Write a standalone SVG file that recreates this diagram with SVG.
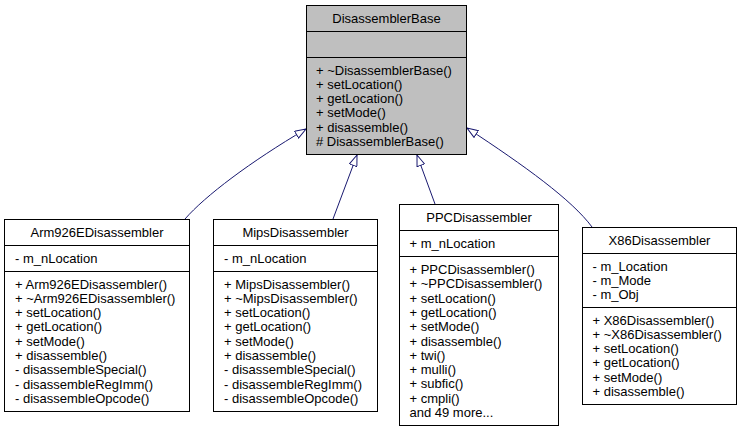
<svg xmlns="http://www.w3.org/2000/svg" width="741" height="433" viewBox="0 0 741 433">
<style>
  text { font-family: "Liberation Sans", Arial, Helvetica, sans-serif; font-size: 13px; fill: #000; }
  .t { text-anchor: middle; }
  .box { fill: #ffffff; stroke: #000; stroke-width: 1; }
  .base { fill: #bfbfbf; stroke: #000; stroke-width: 1; }
  .div { stroke: #000; stroke-width: 1; fill: none; }
  .edge { fill: none; stroke: #191970; stroke-width: 1; }
</style>
<defs>
  <marker id="inh" viewBox="0 0 12 9" refX="11.5" refY="4.5" markerWidth="12" markerHeight="9" markerUnits="userSpaceOnUse" orient="auto">
    <path d="M0.5,0.5 L11.5,4.5 L0.5,8.5 Z" fill="#ffffff" stroke="#191970" stroke-width="1"/>
  </marker>
</defs>
<rect width="741" height="433" fill="#ffffff"/>

<g id="connectors">
  <path class="edge" d="M185,219 C205,196 250,162 306,129" marker-end="url(#inh)"/>
  <path class="edge" d="M333,219 L357,155" marker-end="url(#inh)"/>
  <path class="edge" d="M435,204 L417,155" marker-end="url(#inh)"/>
  <path class="edge" d="M592,227 C572,200 525,166 467,128" marker-end="url(#inh)"/>
</g>

<g id="DisassemblerBase">
  <rect class="base" x="306.5" y="5.5" width="160" height="149"/>
  <line class="div" x1="306.5" y1="31.5" x2="466.5" y2="31.5"/>
  <line class="div" x1="306.5" y1="57.5" x2="466.5" y2="57.5"/>
  <text class="t" x="386.5" y="22.5">DisassemblerBase</text>
  <text x="316" y="74.5">+ ~DisassemblerBase()</text>
  <text x="316" y="88.8">+ setLocation()</text>
  <text x="316" y="103.1">+ getLocation()</text>
  <text x="316" y="117.4">+ setMode()</text>
  <text x="316" y="131.7">+ disassemble()</text>
  <text x="316" y="146">#&#160;DisassemblerBase()</text>
</g>

<g id="Arm926EDisassembler">
  <rect class="box" x="4.5" y="219.5" width="185" height="192"/>
  <line class="div" x1="4.5" y1="245.5" x2="189.5" y2="245.5"/>
  <line class="div" x1="4.5" y1="271.5" x2="189.5" y2="271.5"/>
  <text class="t" x="97" y="236.5">Arm926EDisassembler</text>
  <text x="15" y="262.5">- m_nLocation</text>
  <text x="15" y="288.5">+ Arm926EDisassembler()</text>
  <text x="15" y="302.8">+ ~Arm926EDisassembler()</text>
  <text x="15" y="317.1">+ setLocation()</text>
  <text x="15" y="331.4">+ getLocation()</text>
  <text x="15" y="345.7">+ setMode()</text>
  <text x="15" y="360">+ disassemble()</text>
  <text x="15" y="374.3">- disassembleSpecial()</text>
  <text x="15" y="388.6">- disassembleRegImm()</text>
  <text x="15" y="402.9">- disassembleOpcode()</text>
</g>

<g id="MipsDisassembler">
  <rect class="box" x="213.5" y="219.5" width="164" height="192"/>
  <line class="div" x1="213.5" y1="245.5" x2="377.5" y2="245.5"/>
  <line class="div" x1="213.5" y1="271.5" x2="377.5" y2="271.5"/>
  <text class="t" x="295.5" y="236.5">MipsDisassembler</text>
  <text x="224" y="262.5">- m_nLocation</text>
  <text x="224" y="288.5">+ MipsDisassembler()</text>
  <text x="224" y="302.8">+ ~MipsDisassembler()</text>
  <text x="224" y="317.1">+ setLocation()</text>
  <text x="224" y="331.4">+ getLocation()</text>
  <text x="224" y="345.7">+ setMode()</text>
  <text x="224" y="360">+ disassemble()</text>
  <text x="224" y="374.3">- disassembleSpecial()</text>
  <text x="224" y="388.6">- disassembleRegImm()</text>
  <text x="224" y="402.9">- disassembleOpcode()</text>
</g>

<g id="PPCDisassembler">
  <rect class="box" x="399.5" y="204.5" width="159" height="221"/>
  <line class="div" x1="399.5" y1="230.5" x2="558.5" y2="230.5"/>
  <line class="div" x1="399.5" y1="256.5" x2="558.5" y2="256.5"/>
  <text class="t" x="479" y="222">PPCDisassembler</text>
  <text x="409.5" y="248">+ m_nLocation</text>
  <text x="409.5" y="274">+ PPCDisassembler()</text>
  <text x="409.5" y="288.3">+ ~PPCDisassembler()</text>
  <text x="409.5" y="302.6">+ setLocation()</text>
  <text x="409.5" y="316.9">+ getLocation()</text>
  <text x="409.5" y="331.2">+ setMode()</text>
  <text x="409.5" y="345.5">+ disassemble()</text>
  <text x="409.5" y="359.8">+ twi()</text>
  <text x="409.5" y="374.1">+ mulli()</text>
  <text x="409.5" y="388.4">+ subfic()</text>
  <text x="409.5" y="402.7">+ cmpli()</text>
  <text x="409.5" y="417">and 49 more...</text>
</g>

<g id="X86Disassembler">
  <rect class="box" x="582.5" y="227.5" width="154" height="177"/>
  <line class="div" x1="582.5" y1="253.5" x2="736.5" y2="253.5"/>
  <line class="div" x1="582.5" y1="307.5" x2="736.5" y2="307.5"/>
  <text class="t" x="659.5" y="244.5">X86Disassembler</text>
  <text x="592.5" y="270.5">- m_Location</text>
  <text x="592.5" y="284.8">- m_Mode</text>
  <text x="592.5" y="299.1">- m_Obj</text>
  <text x="592.5" y="324.5">+ X86Disassembler()</text>
  <text x="592.5" y="338.8">+ ~X86Disassembler()</text>
  <text x="592.5" y="353.1">+ setLocation()</text>
  <text x="592.5" y="367.4">+ getLocation()</text>
  <text x="592.5" y="381.7">+ setMode()</text>
  <text x="592.5" y="396">+ disassemble()</text>
</g>
</svg>
